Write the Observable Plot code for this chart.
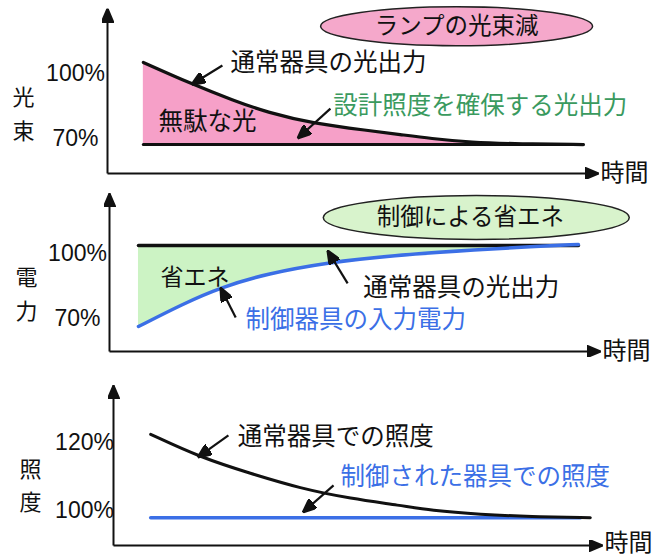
<!DOCTYPE html>
<html><head><meta charset="utf-8">
<script src="https://cdn.jsdelivr.net/npm/d3@7"></script>
<script src="https://cdn.jsdelivr.net/npm/@observablehq/plot@0.6"></script>
<style>
html,body{margin:0;padding:0;background:#fff;}
#chart{width:654px;}
#chart svg{display:block;}
</style></head><body><div id="chart"></div>
<script>
// ---------- DATA ----------
// Panel 1: lamp lumen depreciation (光束)
const lampT      = [0.73, 1.69, 2.57, 3.26, 4.20, 5.30, 5.97, 6.58, 7.39, 8.41, 9.69];
const lampFlux   = [105.1, 95.4, 87.5, 82.0, 76.9, 73.7, 71.8, 70.0, 68.2, 67.5, 67.2];
const designFlux = 67.2;
const fluxTicks  = [100, 70];

// Panel 2: power (電力)
const ctrlT       = [0.59, 1.51, 2.26, 3.22, 4.44, 5.72, 7.56, 8.57, 9.55];
const ctrlPower   = [66.3, 76.9, 84.3, 90.8, 95.8, 99.1, 101.8, 103.2, 104.2];
const normalPower = 103.7;
const powerTicks  = [100, 70];

// Panel 3: illuminance (照度)
const illumT       = [0.76, 1.78, 2.80, 3.82, 4.85, 5.87, 6.48, 7.51, 8.53, 9.75];
const normalIllum  = [122.4, 115.6, 110.9, 106.5, 103.5, 101.5, 100.0, 98.8, 98.2, 97.9];
const ctrlIllum    = 97.9;
const ctrlIllumEnd = 9.55;
const illumTicks   = [120, 100];

// ---------- STYLE ----------
const JP = "'Noto Sans CJK JP', 'Noto Sans', sans-serif";
const NUM = "'Liberation Sans', Arial, sans-serif";
const PINK = "#f6a0c8", PINK_E = "#f5a8cb";
const LGREEN = "#ccf3c4", LGREEN_E = "#d8f3cc";
const GREEN = "#3a9a5e", BLUE = "#3b6fe6";
const NS = "http://www.w3.org/2000/svg";

function triangle(len, wid) {
  return (color) => {
    const m = document.createElementNS(NS, "marker");
    m.setAttribute("viewBox", `${-len} ${-wid / 2} ${len} ${wid}`);
    m.setAttribute("markerWidth", len);
    m.setAttribute("markerHeight", wid);
    m.setAttribute("markerUnits", "userSpaceOnUse");
    m.setAttribute("orient", "auto");
    m.setAttribute("refX", 0);
    m.setAttribute("refY", 0);
    const p = document.createElementNS(NS, "path");
    p.setAttribute("d", `M${-len},${-wid / 2}L0,0L${-len},${wid / 2}Z`);
    p.setAttribute("fill", color);
    m.appendChild(p);
    return m;
  };
}
const axisHead = triangle(14, 12);
const noteHead = triangle(14, 12);

function ellipse(rx, ry) {
  const k = 0.5523;
  return {draw(c) {
    c.moveTo(rx, 0);
    c.bezierCurveTo(rx, ry * k, rx * k, ry, 0, ry);
    c.bezierCurveTo(-rx * k, ry, -rx, ry * k, -rx, 0);
    c.bezierCurveTo(-rx, -ry * k, -rx * k, -ry, 0, -ry);
    c.bezierCurveTo(rx * k, -ry, rx, -ry * k, rx, 0);
    c.closePath();
  }};
}

function axes(base, top, labelDy = 0) {
  return [
    Plot.link([{x1: 0, y1: base, x2: 0, y2: top}], {x1: "x1", y1: "y1", x2: "x2", y2: "y2", stroke: "#111", strokeWidth: 2, markerEnd: axisHead}),
    Plot.link([{x1: 0, y1: base, x2: 10, y2: base}], {x1: "x1", y1: "y1", x2: "x2", y2: "y2", stroke: "#111", strokeWidth: 2, markerEnd: axisHead}),
    Plot.text(["時間"], {x: 10, y: base, dx: 2, dy: labelDy, text: d => d, textAnchor: "start", fontSize: 24, fill: "#111", fontFamily: JP})
  ];
}
function ticks(vals, dx) {
  return Plot.text(vals, {x: 0, y: d => d, dx, text: d => d + "%", textAnchor: "middle", fontSize: 23, fill: "#111", fontFamily: NUM});
}
function yTitle(chars, vals, dx) {
  return Plot.text(chars, {x: 0, y: (d, i) => vals[i], dx, text: d => d, textAnchor: "middle", fontSize: 22, fill: "#111", fontFamily: JP});
}
function note(list) {
  return Plot.text(list, {x: "t", y: "v", text: "text", fill: "fill", textAnchor: "start", fontSize: d => d.size || 24.5, fontFamily: JP});
}
function arrows(list) {
  return Plot.link(list, {x1: "t1", y1: "v1", x2: "t2", y2: "v2", stroke: "#111", strokeWidth: 2.2, markerEnd: noteHead});
}
function bubble(c) {
  return [
    Plot.dot([c], {x: "t", y: "v", symbol: ellipse(c.rx, c.ry), r: 10, fill: c.fill, stroke: "#222", strokeWidth: 1.5}),
    Plot.text([c], {x: "tt", y: "v", text: "text", fontSize: 23.5, fill: "#111", fontFamily: JP})
  ];
}
function panel(o) {
  return Plot.plot({
    width: 654, height: o.height, margin: 0,
    x: {domain: [0, 10], range: o.xRange, axis: null},
    y: {domain: o.yDomain, range: o.yRange, axis: null},
    style: {background: "white", overflow: "visible", fontFamily: JP},
    marks: o.marks
  });
}

// ---------- PANEL 1 ----------
const p1 = lampT.map((t, i) => ({t, v: lampFlux[i]}));
const panel1 = panel({
  height: 186, xRange: [107, 598], yDomain: [70, 100], yRange: [138, 73],
  marks: [
    bubble({t: 7.11, tt: 7.11, v: 121.8, rx: 136, ry: 19.5, fill: PINK_E, text: "ランプの光束減"}),
    Plot.areaY(p1, {x: "t", y1: designFlux, y2: "v", fill: PINK, curve: "basis"}),
    Plot.lineY(p1, {x: "t", y: () => designFlux, stroke: "#111", strokeWidth: 3}),
    Plot.lineY(p1, {x: "t", y: "v", stroke: "#111", strokeWidth: 3.2, curve: "basis"}),
    ...axes(53.85, 130),
    ticks(fluxTicks, -32),
    yTitle(["光", "束"], [88.5, 73.2], -84),
    note([
      {t: 2.505, v: 104.6, text: "通常器具の光出力", fill: "#111"},
      {t: 1.04, v: 77.4, text: "無駄な光", fill: "#111"},
      {t: 4.60, v: 84.8, text: "設計照度を確保する光出力", fill: GREEN}
    ]),
    arrows([
      {t1: 2.34, v1: 103.7, t2: 1.71, v2: 94.9},
      {t1: 4.54, v1: 83.8, t2: 3.87, v2: 70.0}
    ])
  ]
});

// ---------- PANEL 2 ----------
const p2 = ctrlT.map((t, i) => ({t, v: ctrlPower[i]}));
const panel2 = panel({
  height: 184, xRange: [109, 600], yDomain: [70, 100], yRange: [132, 67],
  marks: [
    Plot.areaY(p2, {x: "t", y1: "v", y2: normalPower, fill: LGREEN, curve: "basis"}),
    Plot.lineY(p2, {x: "t", y: () => normalPower, stroke: "#111", strokeWidth: 3.5}),
    Plot.lineY(p2, {x: "t", y: "v", stroke: BLUE, strokeWidth: 3.5, curve: "basis"}),
    bubble({t: 7.47, tt: 7.35, v: 116.6, rx: 153, ry: 22, fill: LGREEN_E, text: "制御による省エネ"}),
    ...axes(54.77, 127.7),
    ticks(powerTicks, -32),
    yTitle(["電", "力"], [88.5, 73.2], -83),
    note([
      {t: 1.04, v: 88.9, text: "省エネ", fill: "#111", size: 23},
      {t: 5.17, v: 83.8, text: "通常器具の光出力", fill: "#111"},
      {t: 2.77, v: 69.1, text: "制御器具の入力電力", fill: BLUE}
    ]),
    arrows([
      {t1: 4.85, v1: 86.2, t2: 4.44, v2: 101.4},
      {t1: 2.57, v1: 70.5, t2: 2.26, v2: 84.3}
    ])
  ]
});

// ---------- PANEL 3 ----------
const p3 = illumT.map((t, i) => ({t, v: normalIllum[i]}));
const p3c = [{t: illumT[0], v: ctrlIllum}, {t: ctrlIllumEnd, v: ctrlIllum}];
const panel3 = panel({
  height: 188, xRange: [113, 602], yDomain: [100, 120], yRange: [140, 72],
  marks: [
    Plot.lineY(p3c, {x: "t", y: "v", stroke: BLUE, strokeWidth: 3.5}),
    Plot.lineY(p3, {x: "t", y: "v", stroke: "#111", strokeWidth: 3, curve: "basis"}),
    ...axes(89.7, 136.8, -2),
    ticks(illumTicks, -29),
    yTitle(["照", "度"], [111.8, 102.1], -83),
    note([
      {t: 2.54, v: 121.5, text: "通常器具での照度", fill: "#111"},
      {t: 4.64, v: 109.7, text: "制御された器具での照度", fill: BLUE}
    ]),
    arrows([
      {t1: 2.35, v1: 122.1, t2: 1.72, v2: 115.6},
      {t1: 4.50, v1: 107.4, t2: 3.87, v2: 99.4}
    ])
  ]
});

const root = document.getElementById("chart");
root.append(panel1, panel2, panel3);
</script></body></html>
